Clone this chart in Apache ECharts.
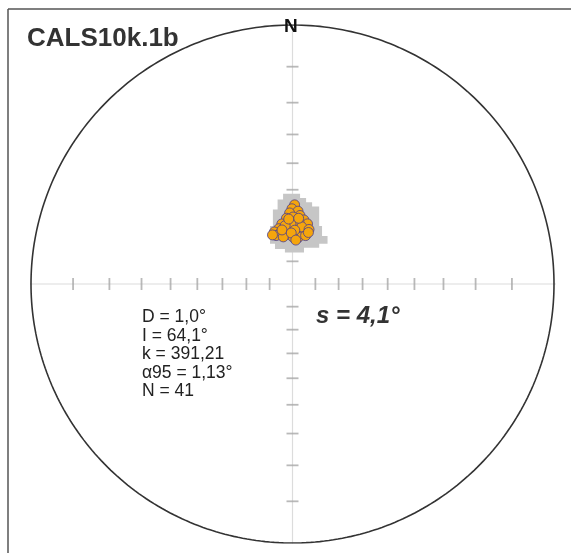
<!DOCTYPE html>
<html>
<head>
<meta charset="utf-8">
<script src="https://cdn.jsdelivr.net/npm/echarts@6/dist/echarts.min.js"></script>
<style>
  html, body { margin: 0; padding: 0; background: #fff; }
  #chart { width: 571px; height: 553px; }
</style>
</head>
<body>
<div id="chart"></div>
<script>
// site directions (declination, inclination in degrees)
const decs = [1.5, 359.6, 4.3, 357.7, 6.2, 0.5, 354.8, 10.0, 13.9, 3.4,
  356.7, 350.0, 6.2, 346.2, 352.0, 341.0, 359.6, 355.8, 7.2, 12.5,
  346.0, 354.8, 2.4, 7.2, 0.5, 15.0, 3.4, 358.6, 352.9, 9.1,
  16.7, 341.5, 349.0, 5.3, 356.7, 2.4, 349.1, 17.0, 358.6, 338.0, 4.3];
const incs = [56.0, 57.6, 58.5, 59.3, 60.2, 61.0, 61.4, 61.8, 63.1, 62.7,
  63.1, 63.5, 63.5, 65.2, 65.6, 66.0, 65.6, 66.5, 66.0, 67.3,
  67.3, 68.1, 68.1, 69.4, 69.4, 68.1, 64.4, 63.9, 64.4, 64.8,
  65.2, 67.7, 69.0, 61.4, 61.8, 66.5, 66.0, 66.5, 67.7, 66.9, 70.7];

// inclination ticks on the net axes
const tickIncs = [10, 20, 30, 40, 50, 60, 70, 80];

// outline of the grey model area, in net units (radius = 1)
const greyOutline = [
  [-0.036, 0.348], [0.029, 0.348], [0.029, 0.332], [0.052, 0.332], [0.052, 0.316],
  [0.075, 0.316], [0.075, 0.299], [0.102, 0.299], [0.102, 0.224], [0.113, 0.224],
  [0.113, 0.185], [0.134, 0.185], [0.134, 0.155], [0.102, 0.155], [0.102, 0.140],
  [0.044, 0.140], [0.044, 0.122], [-0.029, 0.122], [-0.029, 0.135], [-0.067, 0.135],
  [-0.067, 0.155], [-0.086, 0.155], [-0.086, 0.224], [-0.075, 0.224], [-0.075, 0.288],
  [-0.057, 0.288], [-0.057, 0.326], [-0.036, 0.326]
];

const stats = ['D = 1,0°', 'I = 64,1°', 'k = 391,21', 'α95 = 1,13°', 'N = 41'];

// stereographic (equal angle) projection
function proj(dec, inc) {
  const r = Math.tan((90 - inc) / 2 * Math.PI / 180);
  const d = dec * Math.PI / 180;
  return [r * Math.sin(d), r * Math.cos(d)];
}

const circle = [];
for (let a = 0; a <= 360; a += 1) {
  circle.push([Math.sin(a * Math.PI / 180), Math.cos(a * Math.PI / 180)]);
}

const hTicks = [], vTicks = [];
tickIncs.forEach(i => {
  hTicks.push(proj(90, i), proj(270, i));
  vTicks.push(proj(0, i), proj(180, i));
});

const points = decs.map((d, i) => proj(d, incs[i]));

const chart = echarts.init(document.getElementById('chart'));
chart.setOption({
  animation: false,
  grid: { left: 31, top: 25, width: 523, height: 518 },
  xAxis: { type: 'value', min: -1, max: 1, show: false },
  yAxis: { type: 'value', min: -1, max: 1, show: false },
  graphic: [
    { type: 'line', shape: { x1: 8, y1: 9, x2: 571, y2: 9 }, style: { stroke: '#555', lineWidth: 1.5 } },
    { type: 'line', shape: { x1: 8, y1: 9, x2: 8, y2: 553 }, style: { stroke: '#555', lineWidth: 1.5 } },
    { type: 'text', left: 27, top: 26, style: { text: 'CALS10k.1b', font: 'bold 26px "Liberation Sans", Arial', fill: '#333' } },
    { type: 'text', left: 284, top: 17, z: 10, style: { text: 'N', font: 'bold 19px "Liberation Sans", Arial', fill: '#111' } },
    { type: 'text', left: 142, top: 308, style: { text: stats.join('\n'), font: '17.5px "Liberation Sans", Arial', lineHeight: 18.5, fill: '#222' } },
    { type: 'text', left: 316, top: 304, style: { text: 's = 4,1°', font: 'italic bold 24px "Liberation Sans", Arial', fill: '#333' } }
  ],
  series: [
    {
      type: 'line', silent: true, showSymbol: false, z: 1,
      data: [[-1.034, 0], [1.034, 0]],
      lineStyle: { color: '#dcdcdc', width: 1.2 }
    },
    {
      type: 'line', silent: true, showSymbol: false, z: 1,
      data: [[0, 1], [0, -1.039]],
      lineStyle: { color: '#dcdcdc', width: 1.2 }
    },
    {
      type: 'scatter', silent: true, z: 2, symbol: 'rect', symbolSize: [1.8, 12],
      data: hTicks, itemStyle: { color: '#a8a8a8' }
    },
    {
      type: 'scatter', silent: true, z: 2, symbol: 'rect', symbolSize: [12, 1.8],
      data: vTicks, itemStyle: { color: '#a8a8a8' }
    },
    {
      type: 'line', silent: true, showSymbol: false, z: 3,
      data: circle, lineStyle: { color: '#333', width: 1.6 }
    },
    {
      type: 'custom', silent: true, z: 4,
      data: [0],
      renderItem: (params, api) => ({
        type: 'polygon',
        shape: { points: greyOutline.map(p => api.coord(p)) },
        style: { fill: '#c6c6c6' }
      })
    },
    {
      type: 'scatter', silent: true, z: 5, symbolSize: 10,
      data: points,
      itemStyle: { color: '#f5a50c', borderColor: '#4a3f8f', borderWidth: 0.8, opacity: 1 }
    }
  ]
});
</script>
</body>
</html>
